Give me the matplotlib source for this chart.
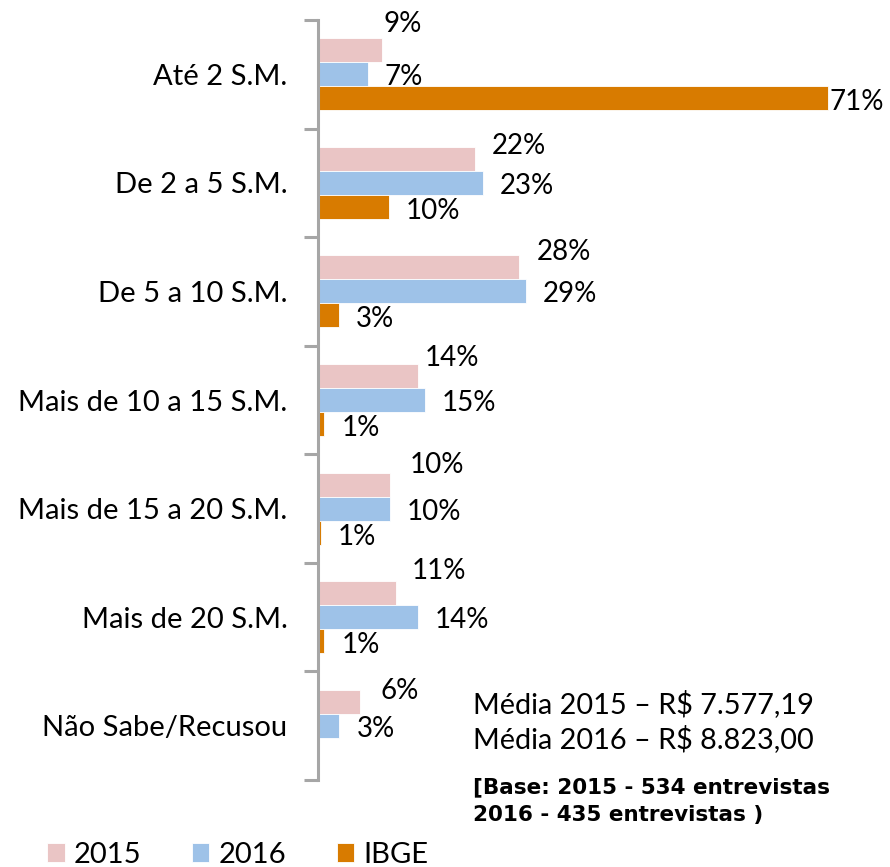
import matplotlib
matplotlib.use("Agg")
import matplotlib.pyplot as plt
import numpy as np

categories = ["Até 2 S.M.", "De 2 a 5 S.M.", "De 5 a 10 S.M.", "Mais de 10 a 15 S.M.",
              "Mais de 15 a 20 S.M.", "Mais de 20 S.M.", "Não Sabe/Recusou"]
series_names = ["2015", "2016", "IBGE"]
values_2015 = [8.9, 21.9, 28.0, 13.9, 10.0, 10.9, 5.8]
values_2016 = [7.0, 23.0, 29.0, 14.9, 10.0, 13.9, 2.9]
values_ibge = [71.0, 9.9, 2.9, 0.8, 0.4, 0.8, None]
labels_2015 = ["9%", "22%", "28%", "14%", "10%", "11%", "6%"]
labels_2016 = ["7%", "23%", "29%", "15%", "10%", "14%", "3%"]
labels_ibge = ["71%", "10%", "3%", "1%", "1%", "1%", None]

colors = ["#EAC5C5", "#9EC2E8", "#D87B00"]
# label offsets in pixels (dx, dy) - style only
off_2015 = [(2, 26), (17, 13), (18, 15), (7, 18), (20, 20), (15, 22), (21, 11)]
off_2016 = [(16, -3), (17, -3), (17, -3), (17, -3), (17, -3), (17, -3), (18, -3)]
off_ibge = [(2, -4), (17, -4), (17, -4), (18, -4), (17, -4), (18, -4), (0, 0)]

FONT = "Lato"
W, H = 890, 867
fig = plt.figure(figsize=(W / 100, H / 100), dpi=100)
ax = fig.add_axes([318 / W, 87 / H, (W - 318) / W, 760 / H])

n = len(categories)
y = np.arange(n)
bh = 0.221
all_vals = [values_2015, values_2016, values_ibge]
all_labels = [labels_2015, labels_2016, labels_ibge]
all_offs = [off_2015, off_2016, off_ibge]
shifts = [-bh, 0, bh]
handles = []
for vals, labs, offs, col, sh, name in zip(all_vals, all_labels, all_offs, colors, shifts, series_names):
    yy = [y[i] + sh for i in range(n) if vals[i] is not None]
    vv = [v for v in vals if v is not None]
    b = ax.barh(yy, vv, height=bh, color=col, edgecolor="white", linewidth=0.6, label=name)
    handles.append(b)
    for i in range(n):
        if vals[i] is None:
            continue
        ax.annotate(labs[i], xy=(vals[i], y[i] + sh), xytext=offs[i], textcoords="offset pixels",
                    ha="left", va="center", fontsize=20, family=FONT, color="black",
                    annotation_clip=False)

ax.set_xlim(0, (W - 318) / 7.18)
ax.set_ylim(n - 0.5, -0.5)
for s in ["top", "right", "bottom"]:
    ax.spines[s].set_visible(False)
ax.spines["left"].set_color("#A6A6A6")
ax.spines["left"].set_linewidth(2.2)
ax.set_xticks([])
ax.set_yticks(y)
ax.set_yticklabels(categories, fontsize=21, family=FONT)
ax.tick_params(axis="y", which="major", length=0, pad=22)
ax.set_yticks(np.arange(n + 1) - 0.5, minor=True)
ax.tick_params(axis="y", which="minor", length=10, width=2.2, color="#A6A6A6")

fig.text(473 / W, 1 - 704 / H, "Média 2015 – R$ 7.577,19", fontsize=20.8, family=FONT, va="center", ha="left")
fig.text(473 / W, 1 - 739 / H, "Média 2016 – R$ 8.823,00", fontsize=20.8, family=FONT, va="center", ha="left")
fig.text(473 / W, 1 - 787 / H, "[Base: 2015 - 534 entrevistas", fontsize=15.5, family="DejaVu Sans",
         weight="bold", va="center", ha="left")
fig.text(473 / W, 1 - 815 / H, "2016 - 435 entrevistas )", fontsize=15.5, family="DejaVu Sans",
         weight="bold", va="center", ha="left")

fig.legend(handles=handles, labels=series_names, loc="center left", bbox_to_anchor=(47 / W, 12 / H),
           ncol=3, frameon=False, prop={"family": FONT, "size": 21}, handlelength=0.6,
           handleheight=0.6, handletextpad=0.3, columnspacing=1.75, borderpad=0, borderaxespad=0)

fig.savefig("out.png", dpi=100)
